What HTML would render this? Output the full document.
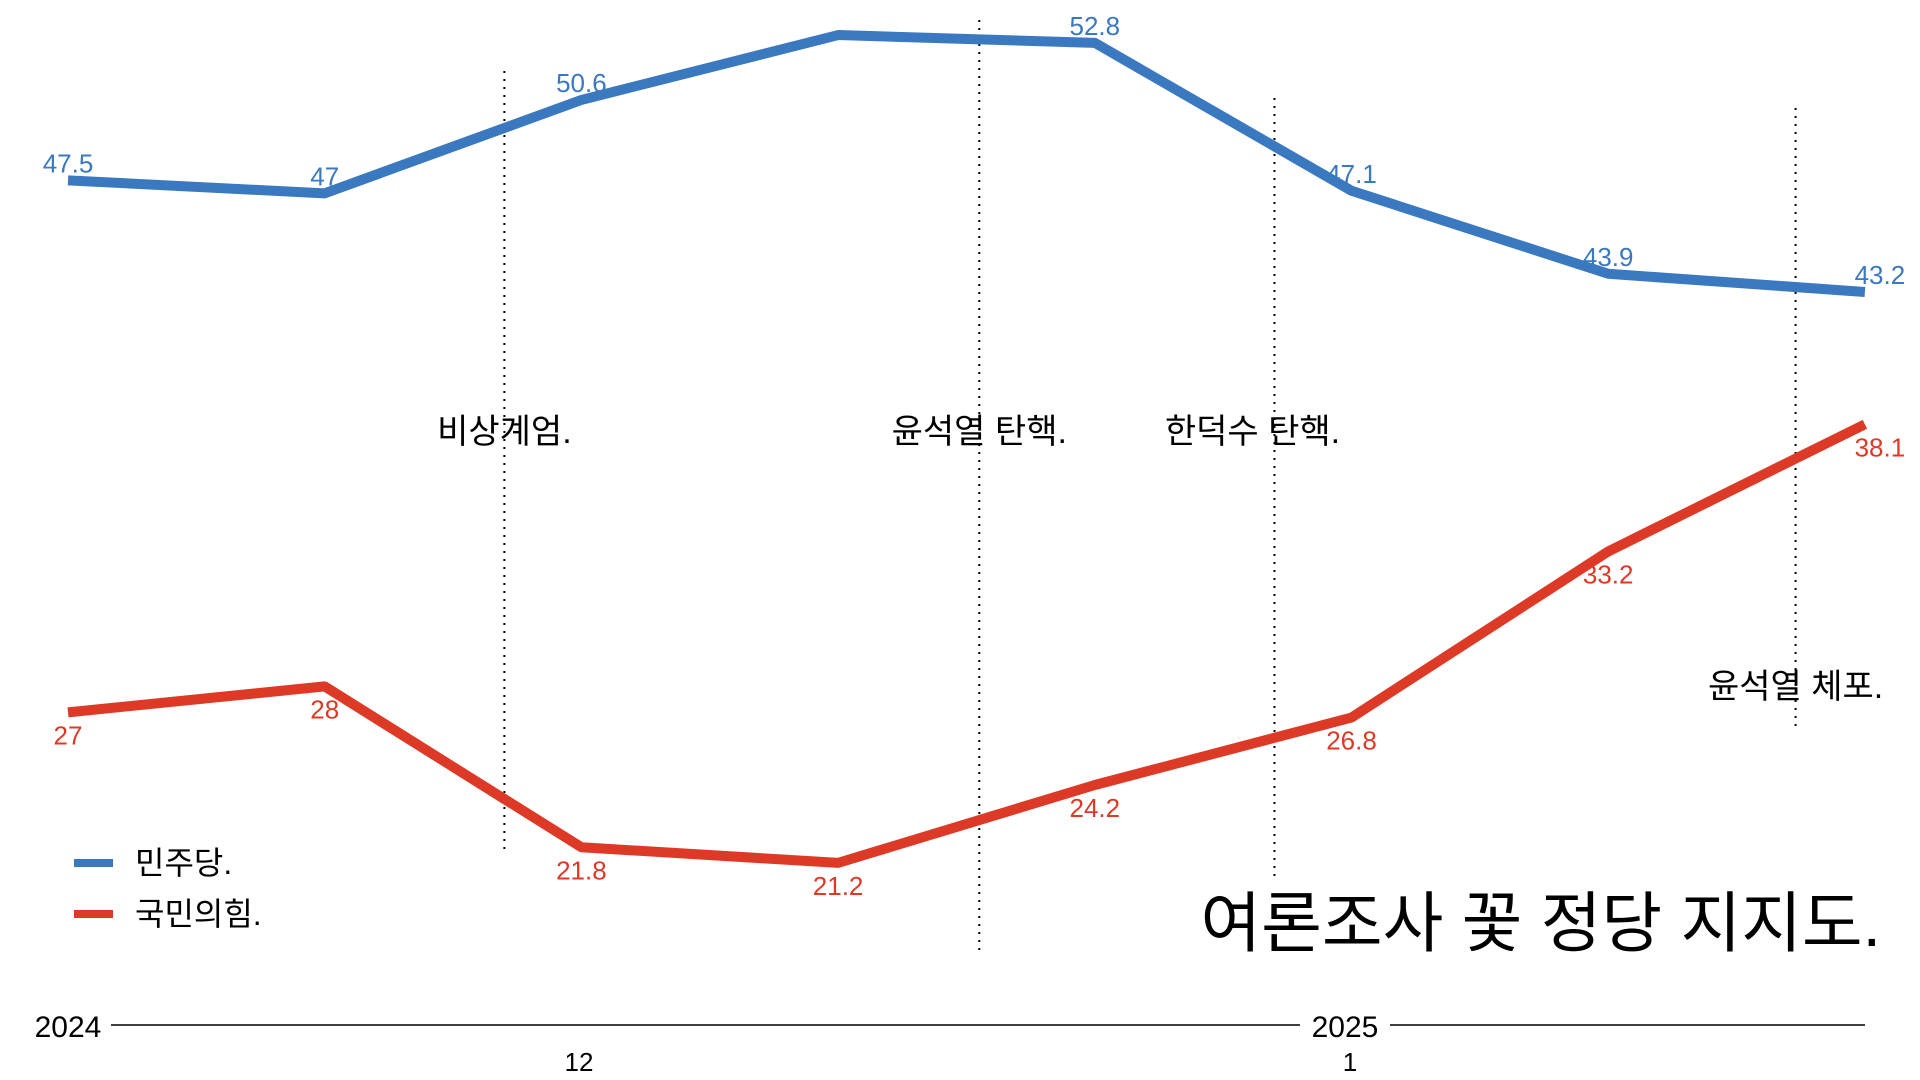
<!DOCTYPE html>
<html><head><meta charset="utf-8"><style>
html,body{margin:0;padding:0;background:#fff;}
svg{display:block;font-family:"Liberation Sans","Noto Sans CJK KR",sans-serif;}
</style></head><body>
<svg id="chart" width="1920" height="1080" viewBox="0 0 1920 1080" xmlns="http://www.w3.org/2000/svg">
<g id="annotations"></g>
<g id="series"></g>
<g>
 <line x1="74" y1="863" x2="113" y2="863" stroke="#3a78bf" stroke-width="8"/>
 <text x="135" y="874" font-size="32">민주당.</text>
 <line x1="74" y1="914" x2="113" y2="914" stroke="#dc3a26" stroke-width="8"/>
 <text x="135" y="925" font-size="32">국민의힘.</text>
</g>
<text x="1881" y="946" font-size="66" text-anchor="end">여론조사 꽃 정당 지지도.</text>
<g>
 <line x1="111" y1="1025" x2="1865" y2="1025" stroke="#000" stroke-width="1.5"/>
 <rect x="1300" y="1008" width="90" height="34" fill="#fff"/>
 <text x="68" y="1037" font-size="30" text-anchor="middle">2024</text>
 <text x="1345" y="1037" font-size="30" text-anchor="middle">2025</text>
 <text x="579" y="1071" font-size="26" text-anchor="middle">12</text>
 <text x="1350" y="1071" font-size="26" text-anchor="middle">1</text>
</g>
</svg>
<script>
const demValues=[47.5,47,50.6,53.1,52.8,47.1,43.9,43.2];
const pppValues=[27,28,21.8,21.2,24.2,26.8,33.2,38.1];
const demLabels=["47.5","47","50.6","","52.8","47.1","43.9","43.2"];
const pppLabels=["27","28","21.8","21.2","24.2","26.8","33.2","38.1"];
const eventNames=["비상계엄.","윤석열 탄핵.","한덕수 탄핵.","윤석열 체포."];
const eventPos=[1.7,3.55,4.7,6.73];
const NS="http://www.w3.org/2000/svg";
const xS=i=>68+i*256.7;
const yS=v=>1413-v*25.95;
const ser=document.getElementById('series');
const ann=document.getElementById('annotations');
const evY=[[71,853],[20,956],[98,882],[108,726]];
const evT=[431,431,431,686];
eventNames.forEach((n,k)=>{
 const x=xS(eventPos[k]);
 const l=document.createElementNS(NS,'line');
 
 
 l.setAttribute('x1',x);l.setAttribute('x2',x);l.setAttribute('y1',evY[k][0]);l.setAttribute('y2',evY[k][1]);
 l.setAttribute('stroke','#000');l.setAttribute('stroke-width','2');l.setAttribute('stroke-dasharray','2 6');
 ann.appendChild(l);
 const t=document.createElementNS(NS,'text');
 
 
 t.setAttribute('x',k==2?x-22:x);t.setAttribute('y',evT[k]+12);t.setAttribute('font-size','34');t.setAttribute('text-anchor','middle');
 t.textContent=n;ann.appendChild(t);
});
function draw(vals,labels,color,name,above){
 const p=document.createElementNS(NS,'polyline');
 
 
 p.setAttribute('points',vals.map((v,i)=>xS(i)+','+yS(v)).join(' '));
 p.setAttribute('fill','none');p.setAttribute('stroke',color);p.setAttribute('stroke-width','10');p.setAttribute('stroke-linejoin','round');
 ser.appendChild(p);
 vals.forEach((v,i)=>{
  if(!labels[i])return;
  const t=document.createElementNS(NS,'text');
  
  
  let x=xS(i);if(i==vals.length-1)x+=15;
  t.setAttribute('x',x);
  t.setAttribute('y',above?yS(v)-8:yS(v)+32);
  t.setAttribute('font-size','26');t.setAttribute('fill',color);t.setAttribute('text-anchor','middle');
  t.textContent=labels[i];ser.appendChild(t);
 });
}
draw(demValues,demLabels,'#3a78bf','democratic',true);
draw(pppValues,pppLabels,'#dc3a26','ppp',false);
</script>
</body></html>
